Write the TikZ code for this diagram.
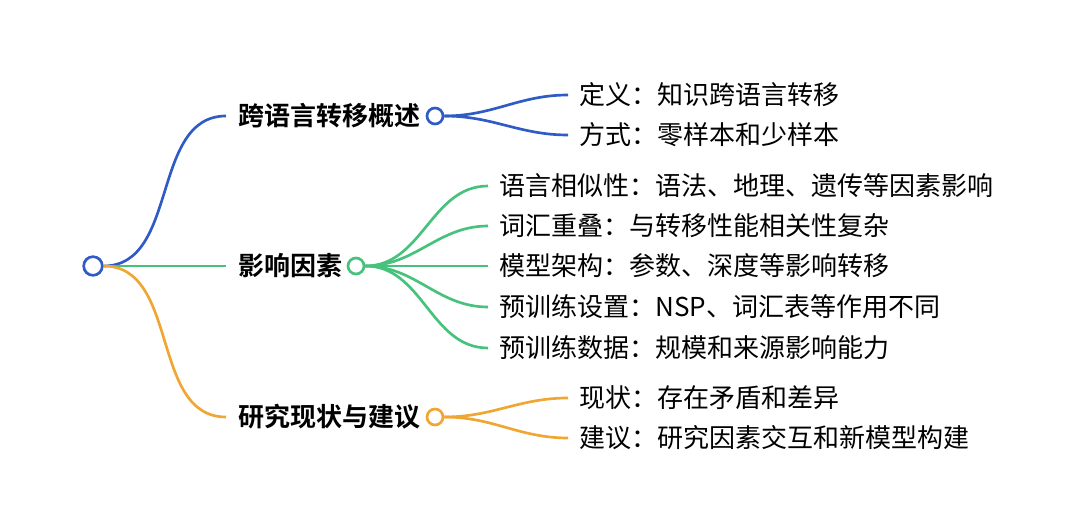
\documentclass[tikz,border=0pt]{standalone}
\usepackage{fontspec}
\newfontfamily\cjk{Noto Sans CJK SC}[BoldFont={Noto Sans CJK SC Bold}]
\definecolor{mblue}{HTML}{2F5CC4}
\definecolor{mgreen}{HTML}{46C27C}
\definecolor{morange}{HTML}{EFA632}
\usetikzlibrary{positioning}

\begin{document}
\begin{tikzpicture}[
  x=0.75pt,y=-0.75pt,
  hub/.style={circle,draw=#1,line width=2pt,fill=white,minimum size=12pt,inner sep=0pt},
  topic/.style={anchor=west,inner xsep=9.5pt,inner ysep=0pt,font=\cjk\bfseries\fontsize{19.5}{23}\selectfont},
  leaf/.style={anchor=west,inner xsep=8.5pt,inner ysep=0pt,font=\cjk\fontsize{19.5}{23}\selectfont},
  link/.style={draw=#1,line width=2pt}
]
\useasboundingbox (0,0) rectangle (1080,505);
\node[hub=mblue,minimum size=14pt] (root) at (93,266) {};

% first level
\node[topic] (over) at (226,116) {跨语言转移概述};
\node[topic] (fact) at (226,266) {影响因素};
\node[topic] (stat) at (226,417) {研究现状与建议};
\node[hub=mblue] (overhub) at (435,116) {};
\node[hub=mgreen] (facthub) at (356,266) {};
\node[hub=morange] (stathub) at (435,417) {};

% second level
\node[leaf] (def) at (568,95) {定义：知识跨语言转移};
\node[leaf] (way) at (568,135) {方式：零样本和少样本};
\node[leaf] (sim) at (488,186) {语言相似性：语法、地理、遗传等因素影响};
\node[leaf] (lex) at (488,226) {词汇重叠：与转移性能相关性复杂};
\node[leaf] (arch) at (488,266) {模型架构：参数、深度等影响转移};
\node[leaf] (pset) at (488,307) {预训练设置：NSP、词汇表等作用不同};
\node[leaf] (pdat) at (488,348) {预训练数据：规模和来源影响能力};
\node[leaf] (now) at (568,398) {现状：存在矛盾和差异};
\node[leaf] (adv) at (568,438) {建议：研究因素交互和新模型构建};

\draw[link=mblue] (root.east) to[out=0,in=180] (over.west);
\draw[link=mgreen] (root.east) -- (fact.west);
\draw[link=morange] (root.east) to[out=0,in=180] (stat.west);
\draw[link=mblue] (overhub.east) to[out=0,in=180] (def.west);
\draw[link=mblue] (overhub.east) to[out=0,in=180] (way.west);
\foreach \n in {sim,lex,arch,pset,pdat}
  \draw[link=mgreen] (facthub.east) to[out=0,in=180] (\n.west);
\draw[link=morange] (stathub.east) to[out=0,in=180] (now.west);
\draw[link=morange] (stathub.east) to[out=0,in=180] (adv.west);
\end{tikzpicture}
\end{document}
